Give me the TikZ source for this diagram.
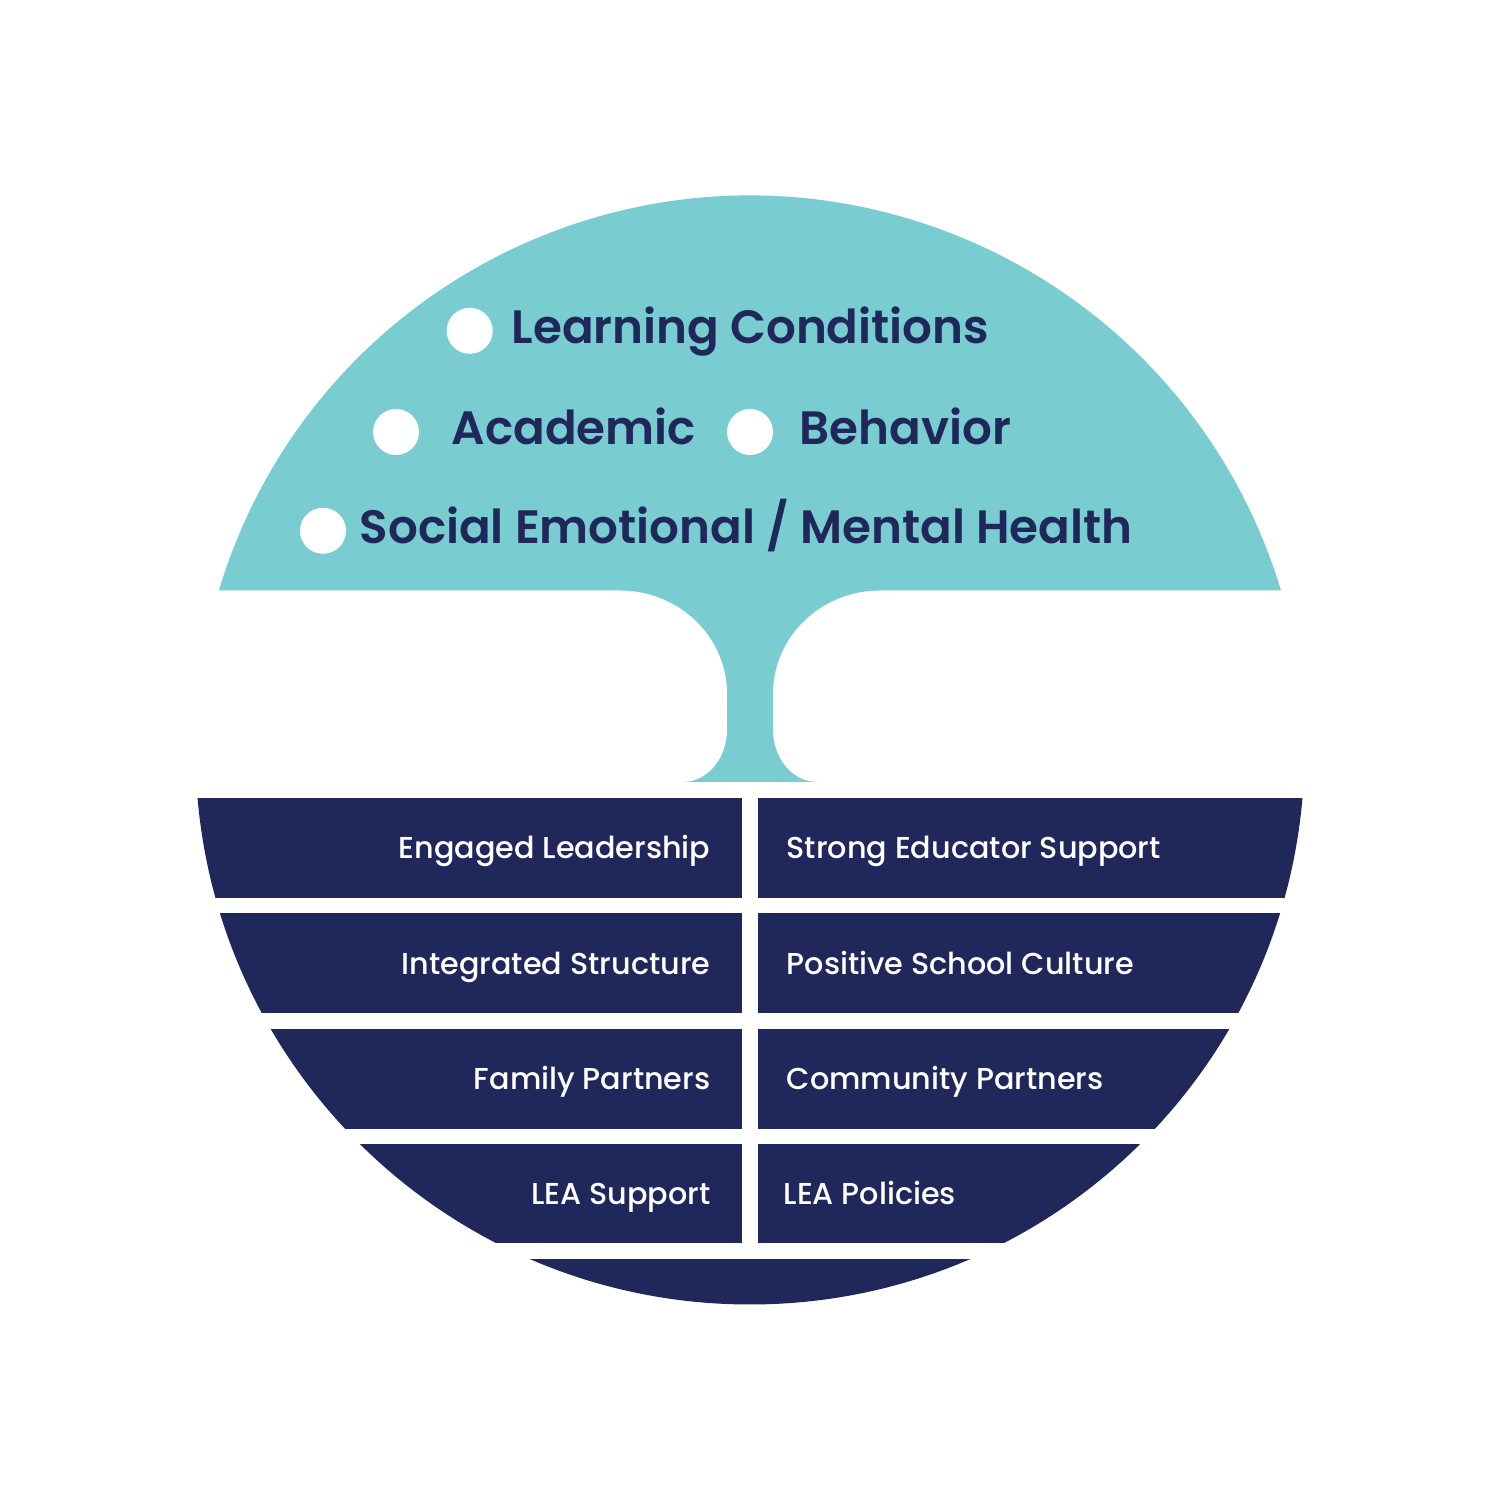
\documentclass[tikz,border=0pt]{standalone}
\usepackage{fontspec}
\setmainfont{Poppins}
\newfontfamily\headfont{Poppins SemiBold}
\newfontfamily\bandfont{Poppins Medium}
\definecolor{tealc}{RGB}{121,205,208}
\definecolor{navyc}{RGB}{32,39,90}
\begin{document}
\begin{tikzpicture}[x=0.01cm,y=0.01cm,
  head/.style={font=\headfont\fontsize{13.3}{15}\selectfont, text=navyc, inner sep=0pt, anchor=base west},
  bandl/.style={font=\bandfont\fontsize{8.6}{10}\selectfont, text=white, inner sep=0pt, anchor=base east},
  bandr/.style={font=\bandfont\fontsize{8.6}{10}\selectfont, text=white, inner sep=0pt, anchor=base west},
  bullet/.style={circle, fill=white, inner sep=0pt, minimum size=0.46cm}]
\fill[white] (0,0) rectangle (1500,1500);
\useasboundingbox (0,0) rectangle (1500,1500);
% canopy and trunk
\fill[tealc] (218.9,909.5) arc[start angle=163.28, end angle=16.72, radius=554.5]
  -- (880,909.5) arc[start angle=90, end angle=180, x radius=107, y radius=103]
  -- (773,770) arc[start angle=180, end angle=270, x radius=44, y radius=52]
  -- (683,718) arc[start angle=270, end angle=360, x radius=44, y radius=52]
  -- (727,806.5) arc[start angle=0, end angle=90, x radius=107, y radius=103]
  -- cycle;
% foundation bands
\begin{scope}
  \clip (750,750) circle[radius=554.5];
  \fill[navyc] (0,602) rectangle (742.3,702);
  \fill[navyc] (757.7,602) rectangle (1500,702);
  \fill[navyc] (0,486.7) rectangle (742.3,586.7);
  \fill[navyc] (757.7,486.7) rectangle (1500,586.7);
  \fill[navyc] (0,371.3) rectangle (742.3,471.3);
  \fill[navyc] (757.7,371.3) rectangle (1500,471.3);
  \fill[navyc] (0,257) rectangle (742.3,356);
  \fill[navyc] (757.7,257) rectangle (1500,356);
  \fill[navyc] (0,0) rectangle (1500,240.7);
\end{scope}
% outcomes
\node[bullet] (b1) at (469.7,1169.2) {};
\node[head] (t1) at (511,1156) {Learning Conditions};
\node[bullet] (b2) at (396,1068) {};
\node[head] (t2) at (451,1055) {Academic};
\node[bullet] (b3) at (750,1068) {};
\node[head] (t3) at (799,1055) {Behavior};
\node[bullet] (b4) at (323,969.2) {};
\node[head] (t4) at (359,956.7) {Social Emotional / Mental Health};
% foundations
\node[bandl] (l1) at (711,641) {Engaged Leadership};
\node[bandr] (r1) at (786,641) {Strong Educator Support};
\node[bandl] (l2) at (711,525.7) {Integrated Structure};
\node[bandr] (r2) at (786,525.7) {Positive School Culture};
\node[bandl] (l3) at (711,410.4) {Family Partners};
\node[bandr] (r3) at (786,410.4) {Community Partners};
\node[bandl] (l4) at (711,295) {LEA Support};
\node[bandr] (r4) at (783,295) {LEA Policies};
\end{tikzpicture}
\end{document}
